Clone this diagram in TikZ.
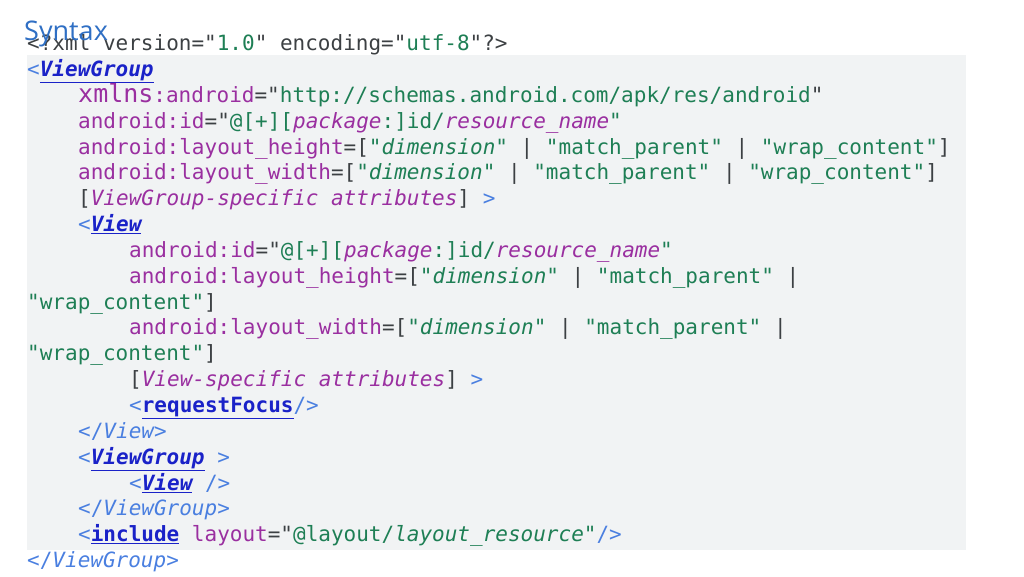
\documentclass[tikz,border=0pt]{standalone}
\usepackage{fontspec}
\setmonofont{DejaVu Sans Mono}
\newfontfamily\titlefont{Open Sans}
\definecolor{codepurple}{HTML}{9A2FA0}
\definecolor{codegreen}{HTML}{1E7F55}
\definecolor{codegray}{HTML}{3C4043}
\definecolor{codeblue}{HTML}{4A7FE0}
\definecolor{codelink}{HTML}{1A22C8}
\definecolor{titleblue}{HTML}{2F6FC4}
\definecolor{boxgray}{HTML}{F1F3F4}
\newcommand{\cp}[1]{\textcolor{codepurple}{#1}}
\newcommand{\cpi}[1]{\textcolor{codepurple}{\itshape #1}}
\newcommand{\cg}[1]{\textcolor{codegreen}{#1}}
\newcommand{\cgi}[1]{\textcolor{codegreen}{\itshape #1}}
\newcommand{\cb}[1]{\textcolor{codeblue}{#1}}
\newcommand{\cbi}[1]{\textcolor{codeblue}{\itshape #1}}
\newcommand{\clink}[1]{\textcolor{codelink}{\underline{\bfseries #1}}}
\newcommand{\clinki}[1]{\textcolor{codelink}{\underline{\bfseries\itshape #1}}}
\begin{document}
\begin{tikzpicture}[x=1pt,y=-1pt,
    codeline/.style={anchor=base west,inner sep=0pt,font=\ttfamily\fontsize{21}{21}\selectfont,text=codegray}]
    \useasboundingbox (0,0) rectangle (1024,576);
    % background of the listing
    \fill [boxgray] (27,55) rectangle (966,550);
    % code lines
    \node [codeline] (l1) at (27,50.5) {<?xml version="\cg{1.0}" encoding="\cg{utf-8}"?>};
    \node [codeline] (l2) at (27,76.4) {\cb{<}\clinki{ViewGroup}};
    \node [codeline] (l3) at (78,102.2) {\cp{{\fontsize{25}{25}\selectfont xmlns}:android}="\cg{http://schemas.android.com/apk/res/android}"};
    \node [codeline] (l4) at (78,128.1) {\cp{android:id}="\cg{@[+][}\cpi{package}\cg{:]id/}\cpi{resource\_name}\cg{"}};
    \node [codeline] (l5) at (78,154.0) {\cp{android:layout\_height}=[\cg{"}\cgi{dimension}\cg{"} | \cg{"match\_parent"} | \cg{"wrap\_content"}]};
    \node [codeline] (l6) at (78,179.8) {\cp{android:layout\_width}=[\cg{"}\cgi{dimension}\cg{"} | \cg{"match\_parent"} | \cg{"wrap\_content"}]};
    \node [codeline] (l7) at (78,205.7) {[\cpi{ViewGroup-specific attributes}] \cb{>}};
    \node [codeline] (l8) at (78,231.5) {\cb{<}\clinki{View}};
    \node [codeline] (l9) at (129,257.4) {\cp{android:id}="\cg{@[+][}\cpi{package}\cg{:]id/}\cpi{resource\_name}\cg{"}};
    \node [codeline] (l10) at (129,283.2) {\cp{android:layout\_height}=[\cg{"}\cgi{dimension}\cg{"} | \cg{"match\_parent"} |};
    \node [codeline] (l11) at (27,309.1) {\cg{"wrap\_content"}]};
    \node [codeline] (l12) at (129,334.9) {\cp{android:layout\_width}=[\cg{"}\cgi{dimension}\cg{"} | \cg{"match\_parent"} |};
    \node [codeline] (l13) at (27,360.8) {\cg{"wrap\_content"}]};
    \node [codeline] (l14) at (129,386.6) {[\cpi{View-specific attributes}] \cb{>}};
    \node [codeline] (l15) at (129,412.5) {\cb{<}\clink{requestFocus}\cb{/>}};
    \node [codeline] (l16) at (78,438.3) {\cb{</}\cbi{View}\cb{>}};
    \node [codeline] (l17) at (78,464.2) {\cb{<}\clinki{ViewGroup} \cb{>}};
    \node [codeline] (l18) at (129,490.0) {\cb{<}\clinki{View} \cb{/>}};
    \node [codeline] (l19) at (78,515.9) {\cb{</}\cbi{ViewGroup}\cb{>}};
    \node [codeline] (l20) at (78,541.7) {\cb{<}\clink{include} \cp{layout}="\cg{@layout/}\cgi{layout\_resource}\cg{"}\cb{/>}};
    \node [codeline] (l21) at (27,567.6) {\cb{</}\cbi{ViewGroup}\cb{>}};
    % title
    \node [anchor=base west,inner sep=0pt,font=\titlefont\fontsize{27}{27}\selectfont,text=titleblue] (title) at (24,40) {Syntax};
\end{tikzpicture}
\end{document}
